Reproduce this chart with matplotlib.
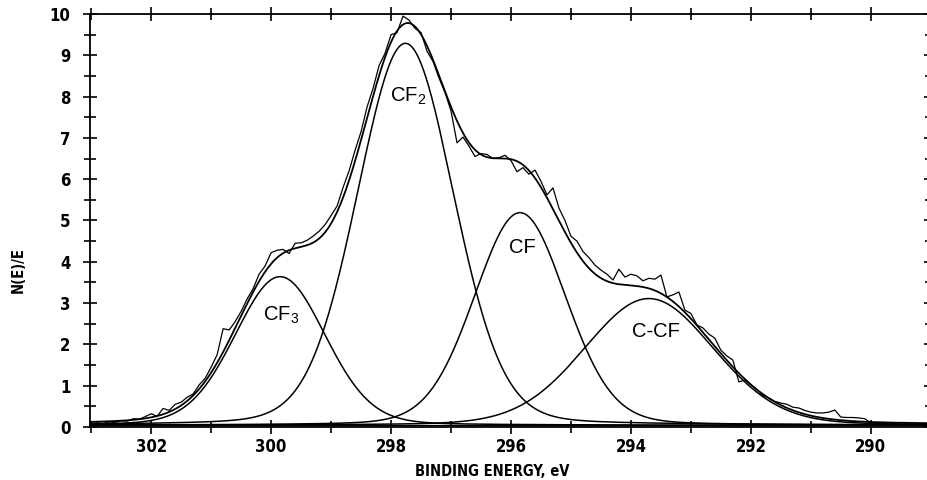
import numpy as np
import matplotlib
matplotlib.use("Agg")
import matplotlib.pyplot as plt
from matplotlib import font_manager
from matplotlib.ticker import MultipleLocator

# Measured C 1s spectrum, 0.1 eV steps from 303.0 eV down to 289.0 eV
energy = np.round(np.arange(303.0, 288.95, -0.1), 1)
counts = [
    0.08, 0.10, 0.09, 0.12, 0.11, 0.15, 0.14, 0.20, 0.19, 0.25,
    0.32, 0.26, 0.45, 0.40, 0.55, 0.60, 0.72, 0.80, 1.02, 1.18,
    1.45, 1.75, 2.38, 2.35, 2.55, 2.80, 3.10, 3.35, 3.70, 3.90,
    4.22, 4.28, 4.30, 4.20, 4.45, 4.46, 4.52, 4.62, 4.74, 4.90,
    5.12, 5.35, 5.80, 6.20, 6.70, 7.15, 7.75, 8.20, 8.75, 9.05,
    9.50, 9.55, 9.95, 9.85, 9.65, 9.55, 9.10, 8.85, 8.45, 8.10,
    7.65, 6.88, 7.02, 6.80, 6.55, 6.62, 6.60, 6.50, 6.52, 6.58,
    6.45, 6.18, 6.28, 6.12, 6.22, 5.95, 5.62, 5.79, 5.30, 5.00,
    4.62, 4.50, 4.25, 4.10, 3.92, 3.80, 3.70, 3.56, 3.82, 3.63,
    3.70, 3.66, 3.54, 3.60, 3.58, 3.68, 3.15, 3.20, 3.27, 2.83,
    2.75, 2.47, 2.40, 2.25, 2.15, 1.86, 1.72, 1.62, 1.09, 1.14,
    1.02, 0.90, 0.77, 0.70, 0.62, 0.58, 0.55, 0.48, 0.46, 0.40,
    0.36, 0.34, 0.34, 0.36, 0.41, 0.24, 0.23, 0.23, 0.22, 0.20,
    0.10, 0.08, 0.09, 0.07, 0.08, 0.06, 0.07, 0.06, 0.07, 0.05,
    0.06,
]

# Fitted components (pseudo-Voigt): centre, height, FWHM
peak_names = ["CF$_\\mathregular{3}$", "CF$_\\mathregular{2}$", "CF", "C-CF"]
peak_centers = [299.85, 297.76, 295.85, 293.70]
peak_heights = [3.60, 9.25, 5.15, 3.07]
peak_fwhm = [1.78, 1.90, 1.80, 2.55]
lorentz_frac = 0.12
baseline = 0.04

# Where each component's name is written (energy, intensity)
label_pos = [(300.13, 2.57), (298.02, 7.87), (296.03, 4.21), (293.98, 2.18)]


def pseudo_voigt(e, c, h, w, eta):
    g = np.exp(-4 * np.log(2) * ((e - c) / w) ** 2)
    l = 1 / (1 + 4 * ((e - c) / w) ** 2)
    return h * ((1 - eta) * g + eta * l)


plt.rcParams["mathtext.fontset"] = "custom"
plt.rcParams["mathtext.rm"] = "Liberation Sans"

# Narrow bold face for the axis annotations
tick_prop = font_manager.FontProperties(family="DejaVu Sans", weight="bold",
                                        stretch="condensed", size=12)
label_prop = font_manager.FontProperties(family="DejaVu Sans", weight="bold",
                                         stretch="condensed", size=10.5)

fig = plt.figure(figsize=(9.28, 4.8), dpi=100)
ax = fig.add_axes([90 / 928, 1 - 427 / 480, 1.003 - 90 / 928, (427 - 14) / 480])

e = np.linspace(288.9, 303.1, 1500)
comps = [pseudo_voigt(e, c, h, w, lorentz_frac)
         for c, h, w in zip(peak_centers, peak_heights, peak_fwhm)]
for comp in comps:
    ax.plot(e, comp + baseline, color="black", lw=1.1)
ax.plot(e, sum(comps) + baseline, color="black", lw=1.3)
ax.plot(energy, counts, color="black", lw=0.9)
ax.axhline(baseline, color="black", lw=0.9)

for name, (x, y) in zip(peak_names, label_pos):
    ax.text(x, y, name, fontsize=14.5, family="Liberation Sans",
            ha="left", va="baseline")

ax.set_xlim(303.02, 289.0)
ax.set_ylim(0, 10)

ax.xaxis.set_major_locator(MultipleLocator(2))
ax.xaxis.set_minor_locator(MultipleLocator(1))
ax.yaxis.set_major_locator(MultipleLocator(1))
ax.yaxis.set_minor_locator(MultipleLocator(0.5))
ax.tick_params(which="both", direction="inout", width=1.2, color="black",
               top=True, right=True)
ax.tick_params(which="major", length=10)
ax.tick_params(which="minor", length=8)
ax.tick_params(axis="x", which="major", pad=3)
ax.tick_params(axis="y", which="major", pad=9)
for spine in ax.spines.values():
    spine.set_linewidth(1.3)

for lab in ax.get_xticklabels() + ax.get_yticklabels():
    lab.set_fontproperties(tick_prop)

fig.text(18 / 928, 1 - 270 / 480, "N(E)/E", rotation=90, ha="center",
         va="center", fontproperties=label_prop)
fig.text(492 / 928, 1 - 472 / 480, "BINDING ENERGY, eV", ha="center",
         va="center", fontproperties=label_prop)

fig.savefig("out.png", dpi=100)
